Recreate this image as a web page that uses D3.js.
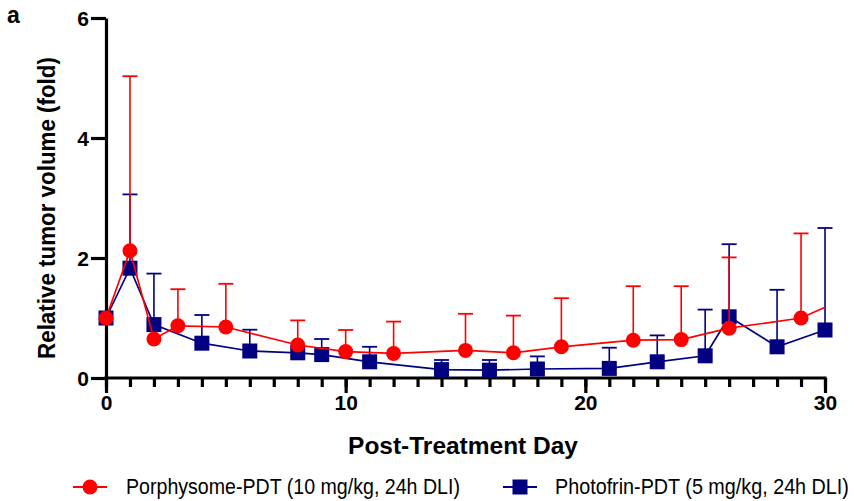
<!DOCTYPE html>
<html>
<head>
<meta charset="utf-8">
<script src="https://cdn.jsdelivr.net/npm/d3@7"></script>
<style>
  html, body { margin: 0; padding: 0; background: #fff; }
  svg { display: block; }
  text { font-family: "Liberation Sans", Arial, Helvetica, sans-serif; }
</style>
</head>
<body>
<svg id="chart" width="854" height="501"></svg>
<script>
// ---- Data ----
const porphysomeDays   = [0, 1, 2, 3, 5, 8, 10, 12, 15, 17, 19, 22, 24, 26, 29, 30];
const porphysomeValues = [1.00, 2.12, 0.65, 0.87, 0.85, 0.55, 0.44, 0.41, 0.46, 0.42, 0.52, 0.63, 0.64, 0.83, 1.00, 1.18];
const porphysomeSD     = [0, 2.91, 0, 0.61, 0.72, 0.41, 0.36, 0.53, 0.61, 0.62, 0.81, 0.90, 0.89, 1.18, 1.41, 0];
const porphysomeMarked = [true, true, true, true, true, true, true, true, true, true, true, true, true, true, true, false];

const photofrinDays   = [0, 1, 2, 4, 6, 8, 9, 11, 14, 16, 18, 21, 23, 25, 26, 28, 30];
const photofrinValues = [1.00, 1.83, 0.89, 0.58, 0.45, 0.42, 0.39, 0.27, 0.14, 0.13, 0.15, 0.16, 0.27, 0.37, 1.02, 0.52, 0.80];
const photofrinSD     = [0, 1.23, 0.85, 0.47, 0.355, 0, 0.26, 0.25, 0.16, 0.17, 0.21, 0.345, 0.44, 0.77, 1.21, 0.95, 1.70];

const yTicks = [0, 2, 4, 6];
const xMajorTicks = [0, 10, 20, 30];
const xMinorTicks = d3.range(0, 31, 1);

const seriesNames = ["Porphysome-PDT (10 mg/kg, 24h DLI)", "Photofrin-PDT (5 mg/kg, 24h DLI)"];
const xTitle = "Post-Treatment Day";
const yTitle = "Relative tumor volume (fold)";
const panelLabel = "a";

// ---- Layout ----
const RED = "#ff0000";
const BLUE = "#000080";
const svg = d3.select("#chart");
const x = d3.scaleLinear().domain([0, 30]).range([106, 825]);
const y = d3.scaleLinear().domain([0, 6]).range([378, 18]);

// helper: horizontally squeeze a text to a target width
function squeeze(sel, x0, y0, width, anchor) {
  const node = sel.node();
  const w = node.getComputedTextLength();
  const sx = width / w;
  sel.attr("x", 0).attr("y", 0).attr("text-anchor", anchor || "start")
    .attr("transform", `translate(${x0},${y0}) scale(${sx},1)`);
}

// Axes
const yAxis = d3.axisLeft(y).tickValues(yTicks).tickSize(15).tickSizeOuter(0).tickPadding(2).tickFormat(d3.format("d"));
const gy = svg.append("g").attr("transform", `translate(${x(0)},0)`).call(yAxis);
gy.select(".domain").attr("stroke", "#000").attr("stroke-width", 3.2);
gy.selectAll(".tick line").attr("stroke", "#000").attr("stroke-width", 3.2);
gy.selectAll(".tick text").attr("font-size", 21).attr("font-weight", "bold").attr("fill", "#000").attr("dy", "0.36em");

const xAxisMinor = d3.axisBottom(x).tickValues(xMinorTicks).tickSize(9).tickSizeOuter(0).tickFormat("");
const gxm = svg.append("g").attr("transform", `translate(0,${y(0)})`).call(xAxisMinor);
gxm.select(".domain").remove();
gxm.selectAll(".tick line").attr("stroke", "#000").attr("stroke-width", 3.2);

const xAxis = d3.axisBottom(x).tickValues(xMajorTicks).tickSize(15).tickSizeOuter(0).tickPadding(5).tickFormat(d3.format("d"));
const gx = svg.append("g").attr("transform", `translate(0,${y(0)})`).call(xAxis);
gx.select(".domain").attr("stroke", "#000").attr("stroke-width", 3.2).attr("d", `M${x(0) - 1.6},0H${x(30) + 1.6}`);
gx.selectAll(".tick line").attr("stroke", "#000").attr("stroke-width", 3.2);
gx.selectAll(".tick text").attr("font-size", 21).attr("font-weight", "bold").attr("fill", "#000").attr("dy", "0.55em");

// Titles
const xt = svg.append("text").attr("font-size", 24).attr("font-weight", "bold").text(xTitle);
squeeze(xt, 463, 454, 230, "middle");
const ytG = svg.append("g").attr("transform", "translate(55,208) rotate(-90)");
const yt = ytG.append("text").attr("font-size", 24).attr("font-weight", "bold").text(yTitle);
squeeze(yt, 0, 0, 302, "middle");
svg.append("text").attr("x", 7).attr("y", 23).attr("font-size", 23).attr("font-weight", "bold").text(panelLabel);

// Series builder
function buildSeries(days, values, sd, color) {
  return days.map((d, i) => ({ day: d, value: values[i], sd: sd[i], color }));
}
const porph = buildSeries(porphysomeDays, porphysomeValues, porphysomeSD, RED);
porph.forEach((p, i) => p.marked = porphysomeMarked[i]);
const photo = buildSeries(photofrinDays, photofrinValues, photofrinSD, BLUE);
photo.forEach(p => p.marked = true);

const line = d3.line().x(d => x(d.day)).y(d => y(d.value));
const capW = 15;

function drawSeries(data, color, shape) {
  const g = svg.append("g");
  const eb = g.selectAll("g.eb").data(data.filter(d => d.sd > 0)).enter().append("g");
  eb.append("line").attr("x1", d => x(d.day)).attr("x2", d => x(d.day))
    .attr("y1", d => y(d.value)).attr("y2", d => y(d.value + d.sd))
    .attr("stroke", color).attr("stroke-width", 1.6);
  eb.append("line").attr("x1", d => x(d.day) - capW / 2).attr("x2", d => x(d.day) + capW / 2)
    .attr("y1", d => y(d.value + d.sd)).attr("y2", d => y(d.value + d.sd))
    .attr("stroke", color).attr("stroke-width", 1.8);
  g.append("path").datum(data).attr("d", line).attr("fill", "none").attr("stroke", color).attr("stroke-width", 1.7);
  const m = data.filter(d => d.marked);
  if (shape === "circle") {
    g.selectAll("circle").data(m).enter().append("circle")
      .attr("cx", d => x(d.day)).attr("cy", d => y(d.value)).attr("r", 7.5).attr("fill", color);
  } else {
    const s = 15;
    g.selectAll("rect").data(m).enter().append("rect")
      .attr("x", d => x(d.day) - s / 2).attr("y", d => y(d.value) - s / 2)
      .attr("width", s).attr("height", s).attr("fill", color);
  }
}
drawSeries(photo, BLUE, "square");
drawSeries(porph, RED, "circle");

// Legend
const legend = [
  { name: seriesNames[0], color: RED, shape: "circle", lx: 73, tx: 126, tw: 334 },
  { name: seriesNames[1], color: BLUE, shape: "square", lx: 503, tx: 555, tw: 294 }
];
const ly = 487;
legend.forEach(l => {
  const g = svg.append("g");
  g.append("line").attr("x1", l.lx).attr("x2", l.lx + 34).attr("y1", ly).attr("y2", ly)
    .attr("stroke", l.color).attr("stroke-width", 1.8);
  if (l.shape === "circle") {
    g.append("circle").attr("cx", l.lx + 17).attr("cy", ly).attr("r", 7.5).attr("fill", l.color);
  } else {
    g.append("rect").attr("x", l.lx + 17 - 7.5).attr("y", ly - 7.5).attr("width", 15).attr("height", 15).attr("fill", l.color);
  }
  const t = g.append("text").attr("font-size", 22).attr("fill", "#000").text(l.name);
  squeeze(t, l.tx, ly + 7, l.tw, "start");
});
</script>
</body>
</html>
